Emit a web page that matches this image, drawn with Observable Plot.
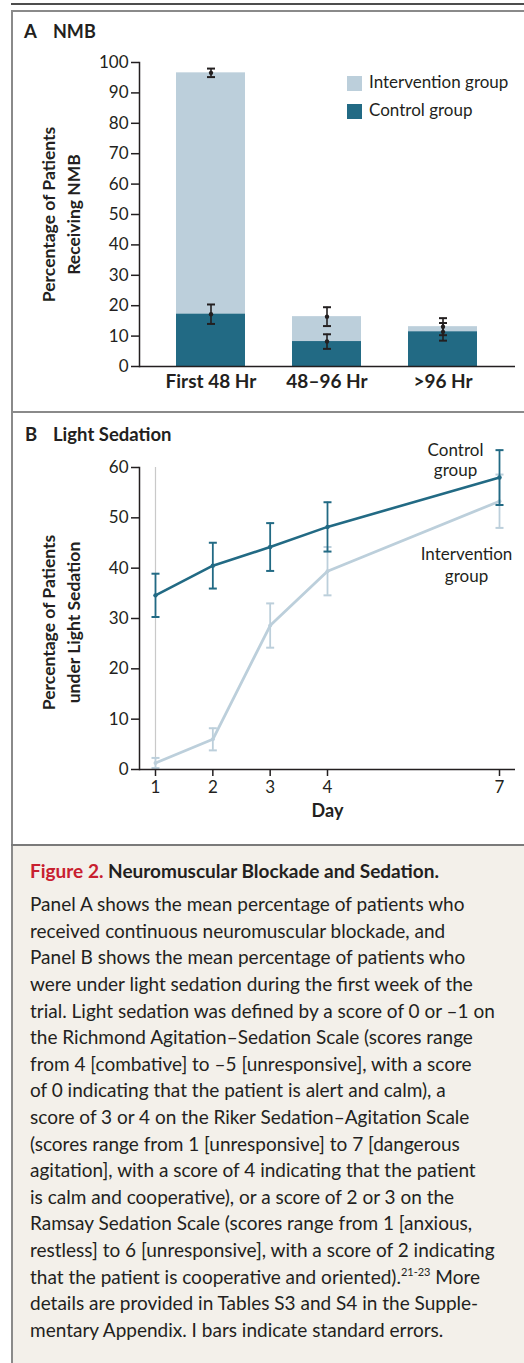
<!DOCTYPE html>
<html><head><meta charset="utf-8">
<script src="https://cdn.jsdelivr.net/npm/d3@7"></script>
<script src="https://cdn.jsdelivr.net/npm/@observablehq/plot@0.6"></script>
<style>
body{margin:0;background:#fff;}
#page{position:relative;width:524px;height:1363px;overflow:hidden;font-family:Lato,sans-serif;color:#231f20;background:#fff;}
.abs{position:absolute;white-space:nowrap;}
.svgwrap{position:absolute;left:0;}
</style></head><body><div id="page"></div>
<script>
// ---------- data ----------
const periods = ["First 48 Hr", "48–96 Hr", ">96 Hr"];
const nmbIntervention = [96.6, 16.4, 13.1];
const nmbInterventionSE = [1.4, 3.1, 2.8];
const nmbControl = [17.2, 8.2, 11.4];
const nmbControlSE = [3.2, 2.4, 2.9];

const days = [1, 2, 3, 4, 7];
const sedControl = [34.6, 40.5, 44.2, 48.2, 58.0];
const sedControlSE = [4.3, 4.55, 4.75, 4.9, 5.45];
const sedIntervention = [1.3, 6.0, 28.6, 39.4, 53.3];
const sedInterventionSE = [1.0, 2.2, 4.4, 4.8, 5.3];

const yTicksA = [0, 10, 20, 30, 40, 50, 60, 70, 80, 90, 100];
const yTicksB = [0, 10, 20, 30, 40, 50, 60];
const xTicksB = [1, 2, 3, 4, 7];

const LIGHT = "#bccfdb";
const DARK = "#226a84";
const INK = "#231f20";
const FONT = "Lato, sans-serif";

const page = document.getElementById("page");
function box(x, y, w, h, bg) {
  const d = document.createElement("div");
  d.className = "abs";
  Object.assign(d.style, {left: x + "px", top: y + "px", width: w + "px", height: h + "px", background: bg});
  page.appendChild(d);
  return d;
}
function place(html, x, base, fs, opts = {}) {
  const d = document.createElement("div");
  d.className = "abs";
  d.innerHTML = html;
  Object.assign(d.style, {fontSize: fs + "px", lineHeight: "1", left: x + "px", top: (base - 0.887 * fs) + "px",
    fontWeight: opts.weight || "normal", color: opts.color || INK});
  page.appendChild(d);
  return d;
}

// ---------- frame / borders ----------
box(0, 0, 524, 1363, "#fff");
box(13, 846, 511, 517, "#f3f0ea");
box(11, 3, 513, 1.5, "#4d4d4d");
box(11, 10, 513, 2, "#8a8a8a");
box(11, 10, 2, 1353, "#8a8a8a");
box(11, 411, 513, 2, "#8a8a8a");
box(11, 844, 513, 2, "#7a7a7a");

const cap = {draw(ctx) { ctx.moveTo(-4, 0); ctx.lineTo(4, 0); }};

// ---------- Panel A ----------
const nmbRows = periods.map((p, i) => ({period: p, iv: nmbIntervention[i], ise: nmbInterventionSE[i], ct: nmbControl[i], cse: nmbControlSE[i]}));
const plotA = Plot.plot({
  width: 524, height: 400,
  marginTop: 50, marginBottom: 46, marginLeft: 139, marginRight: 9,
  style: {fontFamily: FONT, color: INK, background: "transparent", overflow: "visible"},
  x: {domain: periods, paddingInner: 0.405, paddingOuter: 0.323},
  y: {domain: [0, 100]},
  marks: [
    Plot.barY(nmbRows, {x: "period", y: "iv", fill: LIGHT}),
    Plot.barY(nmbRows, {x: "period", y: "ct", fill: DARK}),
    Plot.ruleY([0], {stroke: INK, strokeWidth: 1.5}),
    Plot.frame({anchor: "left", stroke: INK, strokeWidth: 1.5}),
    Plot.axisY({ticks: yTicksA, tickSize: 8, tickPadding: 3, fontSize: 17, label: null, strokeWidth: 1.5}),
    Plot.axisX({tickSize: 0, tickPadding: 8, fontSize: 19, fontWeight: "bold", label: null}),
    Plot.text(["Percentage of Patients\nReceiving NMB"], {frameAnchor: "left", textAnchor: "middle", lineAnchor: "middle", rotate: -90, dx: -80.5, fontSize: 17.5, fontWeight: "bold", lineHeight: 1.43}),
    Plot.ruleX(nmbRows, {x: "period", y1: d => d.iv - d.ise, y2: d => d.iv + d.ise, stroke: INK, strokeWidth: 1.6}),
    Plot.dot(nmbRows, {x: "period", y: d => d.iv + d.ise, symbol: cap, stroke: INK, strokeWidth: 2, fill: "none"}),
    Plot.dot(nmbRows, {x: "period", y: d => d.iv - d.ise, symbol: cap, stroke: INK, strokeWidth: 2, fill: "none"}),
    Plot.dot(nmbRows, {x: "period", y: "iv", r: 2.2, fill: INK}),
    Plot.ruleX(nmbRows, {x: "period", y1: d => d.ct - d.cse, y2: d => d.ct + d.cse, stroke: INK, strokeWidth: 1.6}),
    Plot.dot(nmbRows, {x: "period", y: d => d.ct + d.cse, symbol: cap, stroke: INK, strokeWidth: 2, fill: "none"}),
    Plot.dot(nmbRows, {x: "period", y: d => d.ct - d.cse, symbol: cap, stroke: INK, strokeWidth: 2, fill: "none"}),
    Plot.dot(nmbRows, {x: "period", y: "ct", r: 2.2, fill: INK})
  ]
});
const wa = document.createElement("div"); wa.className = "svgwrap"; wa.style.top = "12px"; wa.appendChild(plotA); page.appendChild(wa);

// Panel A title + legend
place("A", 24, 38, 18.5, {weight: "bold"});
place("NMB", 53, 38, 18, {weight: "bold"});
box(347, 76, 15, 15, LIGHT);
box(347, 104, 15, 15, DARK);
place("Intervention group", 369, 88, 17);
place("Control group", 369, 116, 17);

// ---------- Panel B ----------
const sedRows = days.map((d, i) => ({day: d, ct: sedControl[i], cse: sedControlSE[i], iv: sedIntervention[i], ise: sedInterventionSE[i]}));
const last = sedRows.slice(-1);
const plotB = Plot.plot({
  width: 524, height: 432,
  marginTop: 54, marginBottom: 76, marginLeft: 139, marginRight: 9,
  style: {fontFamily: FONT, color: INK, background: "transparent", overflow: "visible"},
  x: {domain: [0.721, 7.279]},
  y: {domain: [0, 60]},
  marks: [
    Plot.ruleX(sedRows.slice(0, 1), {x: "day", y1: 0, y2: 60, stroke: "#c9c9c9", strokeWidth: 1.2}),
    Plot.line(sedRows, {x: "day", y: "iv", stroke: LIGHT, strokeWidth: 2.8}),
    Plot.line(sedRows, {x: "day", y: "ct", stroke: DARK, strokeWidth: 2.6}),
    Plot.ruleX(sedRows, {x: "day", y1: d => d.iv - d.ise, y2: d => d.iv + d.ise, stroke: LIGHT, strokeWidth: 1.8}),
    Plot.dot(sedRows, {x: "day", y: d => d.iv + d.ise, symbol: cap, stroke: LIGHT, strokeWidth: 2, fill: "none"}),
    Plot.dot(sedRows, {x: "day", y: d => d.iv - d.ise, symbol: cap, stroke: LIGHT, strokeWidth: 2, fill: "none"}),
    Plot.dot(sedRows, {x: "day", y: "iv", r: 2, fill: LIGHT}),
    Plot.ruleX(sedRows, {x: "day", y1: d => d.ct - d.cse, y2: d => d.ct + d.cse, stroke: DARK, strokeWidth: 1.8}),
    Plot.dot(sedRows, {x: "day", y: d => d.ct + d.cse, symbol: cap, stroke: DARK, strokeWidth: 2, fill: "none"}),
    Plot.dot(sedRows, {x: "day", y: d => d.ct - d.cse, symbol: cap, stroke: DARK, strokeWidth: 2, fill: "none"}),
    Plot.dot(sedRows, {x: "day", y: "ct", r: 2.2, fill: DARK}),
    Plot.ruleY([0], {stroke: INK, strokeWidth: 1.5}),
    Plot.frame({anchor: "left", stroke: INK, strokeWidth: 1.5}),
    Plot.axisY({ticks: yTicksB, tickSize: 8, tickPadding: 3, fontSize: 17, label: null, strokeWidth: 1.5}),
    Plot.axisX({ticks: xTicksB, tickSize: 7, tickPadding: 4, fontSize: 17, label: null, strokeWidth: 1.5, tickFormat: d3.format("d")}),
    Plot.text(["Day"], {frameAnchor: "bottom", lineAnchor: "middle", textAnchor: "middle", dy: 42, fontSize: 18, fontWeight: "bold"}),
    Plot.text(["Percentage of Patients\nunder Light Sedation"], {frameAnchor: "left", textAnchor: "middle", lineAnchor: "middle", rotate: -90, dx: -80.5, dy: 4, fontSize: 17.5, fontWeight: "bold", lineHeight: 1.43}),
    Plot.text(last, {x: "day", y: "ct", text: () => "Control\ngroup", dx: -44, dy: -18, fontSize: 17, lineHeight: 1.2}),
    Plot.text(last, {x: "day", y: "iv", text: () => "Intervention\ngroup", dx: -33, dy: 63, fontSize: 17, lineHeight: 1.25})
  ]
});
const wb = document.createElement("div"); wb.className = "svgwrap"; wb.style.top = "413px"; wb.appendChild(plotB); page.appendChild(wb);

place("B", 25, 441, 18.5, {weight: "bold"});
place("Light Sedation", 53, 441, 18.5, {weight: "bold"});

// ---------- Caption ----------
place('<span style="color:#c8202f">Figure 2.</span> Neuromuscular Blockade and Sedation.', 30, 877.5, 19, {weight: "bold"});
const captionLines = [
  "Panel A shows the mean percentage of patients who",
  "received continuous neuromuscular blockade, and",
  "Panel B shows the mean percentage of patients who",
  "were under light sedation during the first week of the",
  "trial. Light sedation was defined by a score of 0 or –1 on",
  "the Richmond Agitation–Sedation Scale (scores range",
  "from 4 [combative] to –5 [unresponsive], with a score",
  "of 0 indicating that the patient is alert and calm), a",
  "score of 3 or 4 on the Riker Sedation–Agitation Scale",
  "(scores range from 1 [unresponsive] to 7 [dangerous",
  "agitation], with a score of 4 indicating that the patient",
  "is calm and cooperative), or a score of 2 or 3 on the",
  "Ramsay Sedation Scale (scores range from 1 [anxious,",
  "restless] to 6 [unresponsive], with a score of 2 indicating",
  'that the patient is cooperative and oriented).<span style="font-size:11px;position:relative;top:-8px">21-23</span> More',
  "details are provided in Tables S3 and S4 in the Supple-",
  "mentary Appendix. I bars indicate standard errors."
];
captionLines.forEach((t, i) => place(t, 30, 911 + i * 26.6, 19));
</script></body></html>
